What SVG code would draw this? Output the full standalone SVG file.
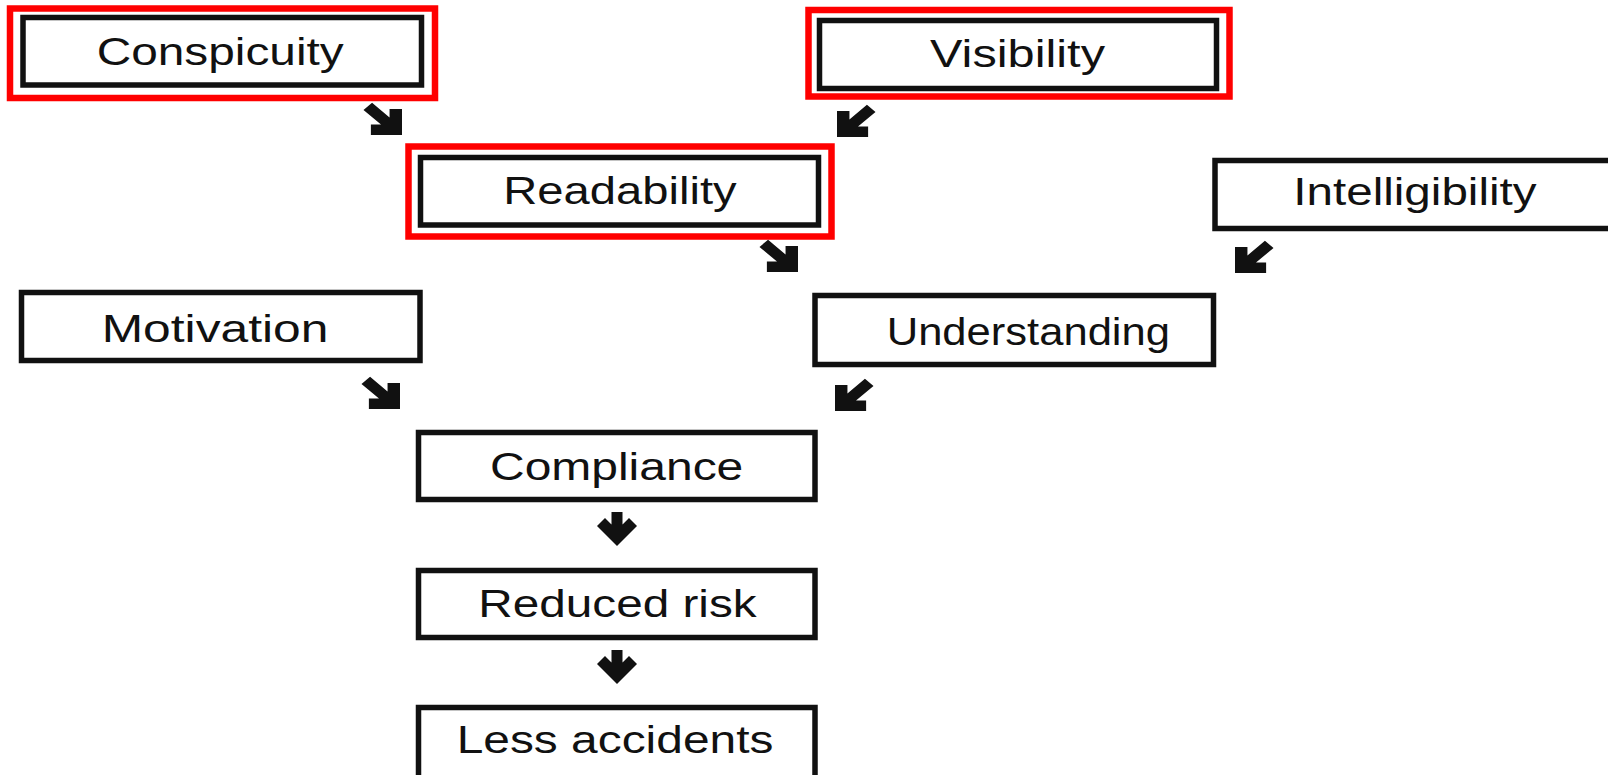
<svg xmlns="http://www.w3.org/2000/svg" xmlns:xlink="http://www.w3.org/1999/xlink" width="1608" height="775" viewBox="0 0 1608 775">
<style>
.box{fill:#fff;stroke:#111;stroke-width:5.5}
.hl{fill:none;stroke:#f00;stroke-width:6.5}
.lbl{font-family:"Liberation Sans",Arial,sans-serif;font-size:38px;fill:#111}
.arr{fill:#111}
</style>
<defs>
<polygon id="arrDown" points="0,0 -20,-20 -12,-28 -5.5,-21.5 -5.5,-34 5.5,-34 5.5,-21.5 12,-28 20,-20"/>
<polygon id="arrDiag" points="0,0 -20,-20 -12,-28 -5.5,-21.5 -5.5,-44 5.5,-44 5.5,-21.5 12,-28 20,-20"/>
</defs>
<rect width="1608" height="775" fill="#fff"/>
<g id="conspicuity">
<rect class="hl" x="10" y="8.5" width="425" height="89.5"/>
<rect class="box" x="23" y="17.5" width="398.5" height="67.5"/>
<text class="lbl" x="96.7" y="65" textLength="247" lengthAdjust="spacingAndGlyphs">Conspicuity</text>
</g>
<g id="visibility">
<rect class="hl" x="808.5" y="10" width="421" height="86.5"/>
<rect class="box" x="819.5" y="20.5" width="397" height="68"/>
<text class="lbl" x="930" y="67" textLength="175" lengthAdjust="spacingAndGlyphs">Visibility</text>
</g>
<g id="readability">
<rect class="hl" x="408.5" y="146.5" width="423" height="90"/>
<rect class="box" x="420.5" y="157.5" width="398" height="67.5"/>
<text class="lbl" x="503.3" y="204" textLength="233.3" lengthAdjust="spacingAndGlyphs">Readability</text>
</g>
<g id="intelligibility">
<rect class="box" x="1215" y="160.5" width="410" height="68"/>
<text class="lbl" x="1293.3" y="205" textLength="243.3" lengthAdjust="spacingAndGlyphs">Intelligibility</text>
</g>
<g id="motivation">
<rect class="box" x="21.5" y="292.5" width="398.5" height="68"/>
<text class="lbl" x="101.7" y="342" textLength="226.7" lengthAdjust="spacingAndGlyphs">Motivation</text>
</g>
<g id="understanding">
<rect class="box" x="815" y="295.5" width="398.5" height="69"/>
<text class="lbl" x="886.7" y="345" textLength="283.3" lengthAdjust="spacingAndGlyphs">Understanding</text>
</g>
<g id="compliance">
<rect class="box" x="418.5" y="432.5" width="396.5" height="67"/>
<text class="lbl" x="490" y="480" textLength="253.3" lengthAdjust="spacingAndGlyphs">Compliance</text>
</g>
<g id="reduced-risk">
<rect class="box" x="418.5" y="570.5" width="396.5" height="67"/>
<text class="lbl" x="478.3" y="617" textLength="278.3" lengthAdjust="spacingAndGlyphs">Reduced risk</text>
</g>
<g id="less-accidents">
<rect class="box" x="418.5" y="707.5" width="396.5" height="80"/>
<text class="lbl" x="456.7" y="753" textLength="316.7" lengthAdjust="spacingAndGlyphs">Less accidents</text>
</g>
<g id="connectors" class="arr">
<use xlink:href="#arrDiag" transform="translate(402,135) scale(1.1,0.92) rotate(-45)"/>
<use xlink:href="#arrDiag" transform="translate(837,137) scale(1.1,0.92) rotate(45)"/>
<use xlink:href="#arrDiag" transform="translate(798,272) scale(1.1,0.92) rotate(-45)"/>
<use xlink:href="#arrDiag" transform="translate(1235,273) scale(1.1,0.92) rotate(45)"/>
<use xlink:href="#arrDiag" transform="translate(400,409) scale(1.1,0.92) rotate(-45)"/>
<use xlink:href="#arrDiag" transform="translate(835,411) scale(1.1,0.92) rotate(45)"/>
<use xlink:href="#arrDown" transform="translate(617,546)"/>
<use xlink:href="#arrDown" transform="translate(617,684)"/>
</g>
</svg>
